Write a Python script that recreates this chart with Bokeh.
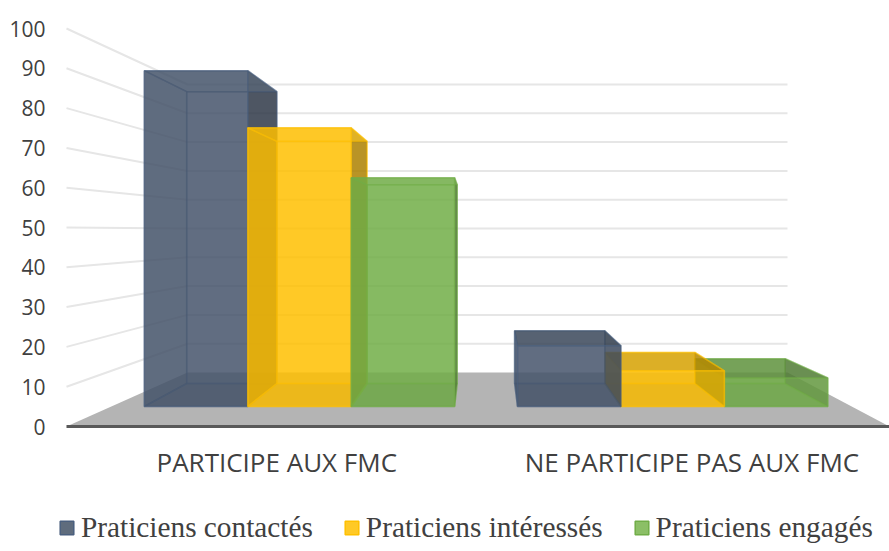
from bokeh.plotting import figure
from bokeh.embed import file_html
from bokeh.resources import INLINE
from bokeh.models import Range1d, FixedTicker, Legend, LegendItem, ColumnDataSource
from bokeh.core.properties import value

categories = ["PARTICIPE AUX FMC", "NE PARTICIPE PAS AUX FMC"]
series = ["Praticiens contactés", "Praticiens intéressés", "Praticiens engagés"]
contactes = [94, 17]
interesses = [78, 10]
engages = [64, 8]
y_ticks = [0, 10, 20, 30, 40, 50, 60, 70, 80, 90, 100]
colors = ["#44546A", "#FFC000", "#70AD47"]
edges = ["#4A5F7E", "#FFC000", "#70AD47"]
legend_colors = ["#5F6C7D", "#FFC926", "#8BBF66"]

# oblique view: floor left/right and scale at front (t=0) and back wall (t=1)
W = 823.0
LEFT_IN, RIGHT_IN = 121.0, 102.0
S_F, S_B, FLOOR = 3.98, 2.88, 54.0
def proj(u, v, t):
    l = LEFT_IN * t
    r = W - RIGHT_IN * t
    x = (l + u * (r - l)) / W
    back = (FLOOR + S_B * v) / S_F
    return x, v + (back - v) * t

def shade(c, k):
    return "#%02x%02x%02x" % tuple(int(int(c[i:i+2], 16) * k) for i in (1, 3, 5))

p = figure(width=889, height=551, output_backend="svg", toolbar_location=None,
           x_range=Range1d(-16 / W, 1), y_range=Range1d(-125 / S_F, 426 / S_F),
           min_border_left=50, min_border_right=0, min_border_top=0, min_border_bottom=0,
           outline_line_color=None, background_fill_color="white", border_fill_color="white")
p.grid.visible = False
p.xaxis.visible = False

# floor
fl = [proj(0, 0, 0), proj(1, 0, 0), proj(1, 0, 1), proj(0, 0, 1)]
p.patch([a for a, _ in fl], [b for _, b in fl], fill_color="#B4B4B4", line_color=None)

# gridlines: side wall and back wall
for v in y_ticks[1:]:
    a, b, c = proj(0, v, 0), proj(0, v, 1), proj(1, v, 1)
    p.line([a[0], b[0], c[0]], [a[1], b[1], c[1]], line_color="#E6E6E6", line_width=2)

# category axis line
p.line([0, 1], [0, 0], line_color="#595959", line_width=3)

# bars
T0, T1 = 0.37, 0.796
BW = 0.1397
starts_front = [0.0446, 0.5486]
starts_back = [0.037, 0.545]
xs, ys, fills, lines = [], [], [], []
def face(pts, fill, line):
    xs.append([q[0] for q in pts]); ys.append([q[1] for q in pts])
    fills.append(fill); lines.append(line)

for g in range(2):
    top_k = 0.98 if g == 0 else 0.78
    # right of the view centre the nearer side faces overlap the next bar
    order = [0, 1, 2] if g == 0 else [2, 1, 0]
    all_vals = [contactes, interesses, engages]
    for s in order:
        v = all_vals[s][g]
        f0 = starts_front[g] + s * BW
        f1 = f0 + BW
        b0 = starts_back[g] + s * BW
        b1 = b0 + BW
        c, e = colors[s], edges[s]
        P = proj
        face([P(b0, 0, T1), P(b1, 0, T1), P(b1, v, T1), P(b0, v, T1)], c, e)              # back
        face([P(f0, 0, T0), P(f1, 0, T0), P(b1, 0, T1), P(b0, 0, T1)], shade(c, .88), e)  # base
        face([P(f0, 0, T0), P(b0, 0, T1), P(b0, v, T1), P(f0, v, T0)], shade(c, .95), e)  # left
        face([P(f1, 0, T0), P(b1, 0, T1), P(b1, v, T1), P(f1, v, T0)], shade(c, .55), e)  # right
        face([P(f0, v, T0), P(f1, v, T0), P(b1, v, T1), P(b0, v, T1)], shade(c, top_k), e)  # top
        face([P(f0, 0, T0), P(f1, 0, T0), P(f1, v, T0), P(f0, v, T0)], c, e)              # front

src = ColumnDataSource(dict(xs=xs, ys=ys, fill=fills, line=lines))
p.patches("xs", "ys", source=src, fill_color="fill", line_color="line",
          fill_alpha=0.61, line_alpha=0.45, line_width=1.5)

# value axis
p.yaxis.ticker = FixedTicker(ticks=y_ticks)
p.yaxis.axis_line_color = None
p.yaxis.major_tick_line_color = None
p.yaxis.minor_tick_line_color = None
p.yaxis.major_tick_out = 0
p.yaxis.major_label_standoff = 5
p.yaxis.major_label_text_font = "Open Sans"
p.yaxis.major_label_text_font_size = "21px"
p.yaxis.major_label_text_color = "#404040"

# category labels
cat_pos = [0.2555, 0.76]
p.text(cat_pos, [-35 / S_F] * 2, text=categories, text_align="center", text_baseline="middle",
       text_font=value("Open Sans"), text_font_size="26px", text_color="#404040")

# legend
items = []
nan = float("nan")
for name, c, e in zip(series, legend_colors, edges):
    r = p.patches([[nan]], [[nan]], fill_color=c, line_color=e, line_width=1.5)
    items.append(LegendItem(label=name, renderers=[r]))
leg = Legend(items=items, orientation="horizontal", location=(8, 7),
             label_text_font="Liberation Serif", label_text_font_size="29.3px",
             label_text_color="#404040", glyph_width=17, glyph_height=17,
             spacing=30, label_standoff=6, background_fill_alpha=0,
             border_line_color=None, padding=0, margin=0)
p.add_layout(leg)

open("out.html", "w").write(file_html(p, INLINE))
